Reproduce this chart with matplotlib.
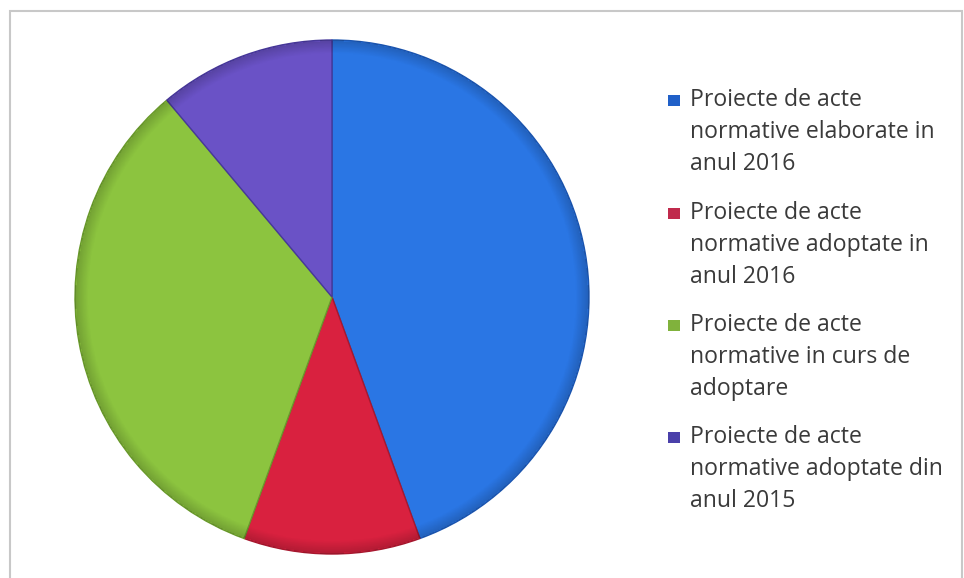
import matplotlib
matplotlib.use("Agg")
import matplotlib.pyplot as plt
from matplotlib.patches import Rectangle
import numpy as np

labels = [
    "Proiecte de acte\nnormative elaborate in\nanul 2016",
    "Proiecte de acte\nnormative adoptate in\nanul 2016",
    "Proiecte de acte\nnormative in curs de\nadoptare",
    "Proiecte de acte\nnormative adoptate din\nanul 2015",
]
values = [4, 1, 3, 1]
colors = ["#2a76e4", "#d9213f", "#8cc43f", "#6a52c6"]
edge_colors = ["#1b55b0", "#a8182f", "#6a9a2c", "#47389a"]
marker_colors = ["#2060c8", "#c02a4c", "#80b23c", "#4a40aa"]

W, H = 964, 578
fig = plt.figure(figsize=(W / 100, H / 100), dpi=100)
fig.patch.set_facecolor("white")

# outer frame (bottom edge falls outside the picture, as in the scan)
fig.patches.append(Rectangle((10 / W, 1 - 590 / H), 952 / W, 579 / H,
                             transform=fig.transFigure, fill=False,
                             edgecolor="#c8c8c8", linewidth=1.5))

cx, cy, R = 332, 297, 257
half = 262
ax = fig.add_axes([(cx - half) / W, 1 - (cy + half) / H, 2 * half / W, 2 * half / H])

wedges, _ = ax.pie(values, colors=colors, startangle=90, counterclock=False,
                   radius=R, wedgeprops=dict(linewidth=1.0))
for w, ec in zip(wedges, edge_colors):
    w.set_edgecolor(ec)

# subtle bevel shading
n = 400
yy, xx = np.mgrid[-half:half:n * 1j, -half:half:n * 1j]
rr = np.sqrt(xx ** 2 + yy ** 2) / R
alpha = np.clip((rr - 0.95) / 0.05, 0, 1) * 0.18
shade = np.zeros((n, n, 4))
shade[..., 3] = np.where(rr <= 1, alpha, 0)
ax.imshow(shade, extent=(-half, half, -half, half), origin="lower", zorder=3)

ax.set_xlim(-half, half)
ax.set_ylim(-half, half)
ax.set_aspect("equal")
ax.axis("off")

# legend
font = "Open Sans"
fs = 16.6
line_h = 32
entry_y = [100, 213, 325, 437]
for lab, mc, y0 in zip(labels, marker_colors, entry_y):
    fig.patches.append(Rectangle((668 / W, 1 - (y0 + 6) / H), 12 / W, 11 / H,
                                 transform=fig.transFigure, facecolor=mc,
                                 edgecolor="none"))
    for i, line in enumerate(lab.split("\n")):
        fig.text(690 / W, 1 - (y0 + i * line_h) / H, line, fontsize=fs,
                 family=font, color="#3a3a3a", va="center", ha="left")

fig.savefig("out.png", dpi=100, facecolor="white")
